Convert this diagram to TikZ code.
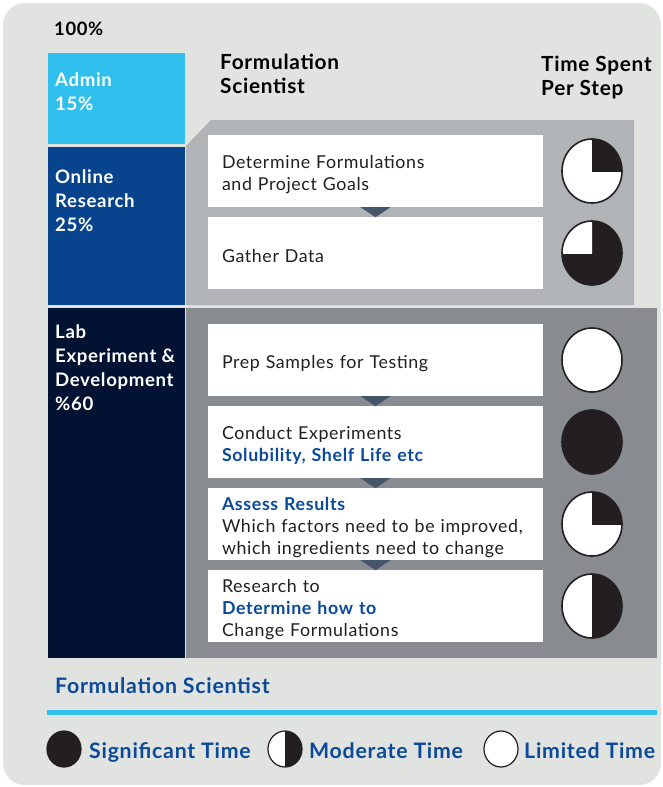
\documentclass[tikz,border=0pt]{standalone}
\usepackage{fontspec}
\setmainfont{Lato}[LetterSpace=3.5]
\usetikzlibrary{shapes.geometric,calc}

\definecolor{bggray}{HTML}{E1E3E1}
\definecolor{admincol}{HTML}{31C0EE}
\definecolor{onlinecol}{HTML}{08448E}
\definecolor{labcol}{HTML}{021232}
\definecolor{panellight}{HTML}{B1B4B6}
\definecolor{paneldark}{HTML}{888B90}
\definecolor{tricol}{HTML}{46566A}
\definecolor{ink}{HTML}{231F20}
\definecolor{bluetext}{HTML}{0B4A9A}
\definecolor{cyanline}{HTML}{31BFEF}

\newcommand{\hl}[1]{{\bfseries\color{bluetext}#1}}

\tikzset{
  catbox/.style={rectangle, inner sep=0pt, minimum width=137pt},
  cattext/.style={anchor=north west, inner sep=0pt, align=left, text=white,
    font=\fontsize{18.6}{24}\selectfont\bfseries},
  header/.style={anchor=north west, inner sep=0pt, align=left, text=black,
    font=\fontsize{20.8}{23.5}\selectfont\bfseries},
  stepbox/.style={rectangle, fill=white, minimum width=335pt, minimum height=72pt,
    text width=307pt, inner xsep=14pt, inner ysep=0pt, align=left, text=ink,
    font=\fontsize{17.8}{22}\selectfont, execute at begin node={\rule{0pt}{20pt}}},
  pie/.style={ellipse, fill=white, inner sep=0pt, minimum width=60pt, minimum height=64pt},
  pieline/.style={draw=ink, line width=1.6pt},
  legpie/.style={ellipse, fill=white, inner sep=0pt, minimum width=34pt, minimum height=36pt},
  legtext/.style={anchor=base west, inner sep=0pt, text=bluetext,
    font=\fontsize{21.3}{24}\selectfont\bfseries},
  pointer/.style={fill=tricol}
}

\begin{document}
\begin{tikzpicture}[x=1pt,y=-1pt]
\useasboundingbox (0,0) rectangle (663,787);
\fill[white] (0,0) rectangle (663,787);
\fill[bggray, rounded corners=22pt] (3,3) rectangle (661,785);

% top labels
\node[anchor=north west, inner sep=0pt, font=\fontsize{18.4}{20}\selectfont\bfseries] (total) at (54,22) {100\%};
\node[header] (hrole) at (220,54) {Formulation\\Scientist};
\node[header] (htime) at (541,56) {Time Spent\\Per Step};

% category column
\node[catbox, fill=admincol, minimum height=91pt] (admin) at (116.5,98.5) {};
\node[catbox, fill=onlinecol, minimum height=158pt] (online) at (116.5,226) {};
\node[catbox, fill=labcol, minimum height=350pt] (lab) at (116.5,483) {};
\node[cattext] (admint) at (55,72) {Admin\\15\%};
\node[cattext] (onlinet) at (55,169) {Online\\Research\\25\%};
\node[cattext] (labt) at (55,324) {Lab\\Experiment \&\\Development\\\%60};

% background panels of the two phases
\fill[panellight] (186,146) -- (211,120) -- (634,120) -- (634,305) -- (186,305) -- cycle;
\fill[paneldark] (186,308) rectangle (657,658);

% steps
\node[stepbox] (s1) at (375.5,171) {Determine Formulations\\and Project Goals};
\node[stepbox] (s2) at (375.5,253) {Gather Data};
\node[stepbox] (s3) at (375.5,360) {Prep Samples for Testing};
\node[stepbox] (s4) at (375.5,442) {Conduct Experiments\\\hl{Solubility, Shelf Life etc}};
\node[stepbox] (s5) at (375.5,524) {\hl{Assess Results}\\Which factors need to be improved,\\which ingredients need to change};
\node[stepbox] (s6) at (375.5,606) {Research to\\\hl{Determine how to}\\Change Formulations};

% pointers between consecutive steps
\foreach \a in {s1,s3,s4,s5}{
  \fill[pointer] ($(\a.south)+(-15,0)$) -- ($(\a.south)+(15,0)$) -- ($(\a.south)+(0,10)$) -- cycle;
}

% time pies
\node[pie] (p1) at (592,171) {};
\node[pie] (p2) at (592,253) {};
\node[pie] (p3) at (592,360) {};
\node[pie] (p4) at (592,442) {};
\node[pie] (p5) at (592,524) {};
\node[pie] (p6) at (592,606) {};

\begin{scope}
  \clip (p1.center) rectangle ++(40,-40);
  \fill[ink] (p1.center) ellipse[x radius=30, y radius=32];
\end{scope}
\fill[ink] (p2.center) ellipse[x radius=30, y radius=32];
\begin{scope}
  \clip (p2.center) rectangle ++(-40,-40);
  \fill[white] (p2.center) ellipse[x radius=30, y radius=32];
\end{scope}
\fill[ink] (p4.center) ellipse[x radius=30, y radius=32];
\begin{scope}
  \clip (p5.center) rectangle ++(40,-40);
  \fill[ink] (p5.center) ellipse[x radius=30, y radius=32];
\end{scope}
\begin{scope}
  \clip ($(p6.center)+(0,-40)$) rectangle ++(40,80);
  \fill[ink] (p6.center) ellipse[x radius=30, y radius=32];
\end{scope}
\foreach \p in {p1,p2,p3,p4,p5,p6}{
  \draw[pieline] (\p.center) ellipse[x radius=30, y radius=32];
}

% legend
\node[anchor=north west, inner sep=0pt, text=bluetext, font=\fontsize{21.3}{23}\selectfont\bfseries] (role) at (55,677) {Formulation Scientist};
\fill[cyanline] (47,710) rectangle (657,715);

\node[legpie] (l1) at (64,749) {};
\node[legpie] (l2) at (285,749) {};
\node[legpie] (l3) at (501,749) {};
\fill[ink] (l1.center) ellipse[x radius=17, y radius=18];
\begin{scope}
  \clip ($(l2.center)+(0,-20)$) rectangle ++(20,40);
  \fill[ink] (l2.center) ellipse[x radius=17, y radius=18];
\end{scope}
\foreach \p in {l1,l2,l3}{
  \draw[draw=ink, line width=1.2pt] (\p.center) ellipse[x radius=17, y radius=18];
}
\node[legtext] (lt1) at (89,758) {Significant Time};
\node[legtext] (lt2) at (309,758) {Moderate Time};
\node[legtext] (lt3) at (524,758) {Limited Time};
\end{tikzpicture}
\end{document}
